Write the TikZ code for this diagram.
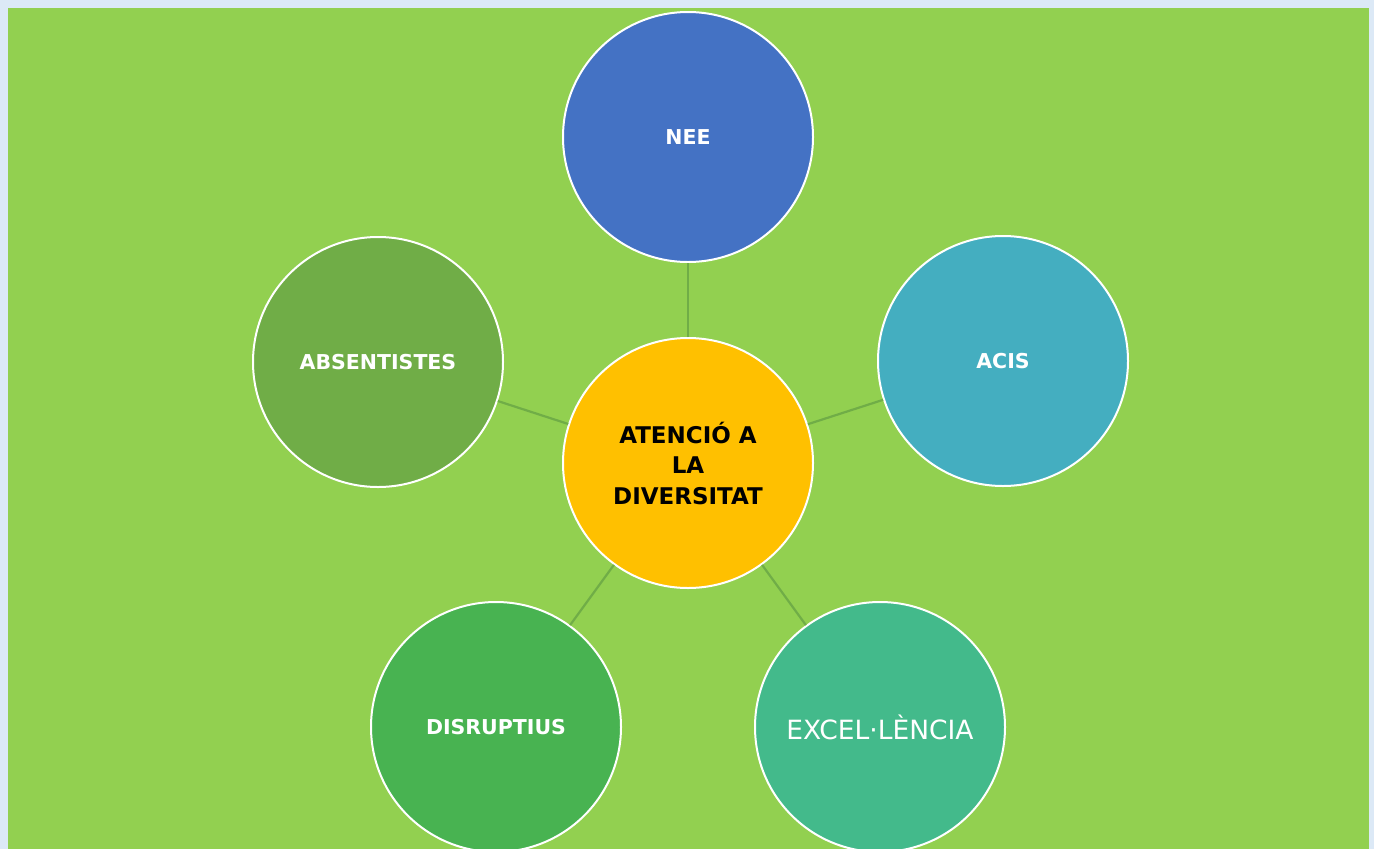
\documentclass[tikz,border=0pt]{standalone}
\usepackage{fontspec}
\setmainfont{DejaVu Sans}
\definecolor{bgblue}{HTML}{DCE9F6}
\definecolor{bggreen}{HTML}{92D050}
\definecolor{linkgreen}{HTML}{70AD47}
\definecolor{cNEE}{HTML}{4472C4}
\definecolor{cACIS}{HTML}{44AEC0}
\definecolor{cABS}{HTML}{70AD47}
\definecolor{cDIS}{HTML}{48B351}
\definecolor{cEXC}{HTML}{43BA8B}
\definecolor{cCEN}{HTML}{FFC000}
\tikzset{
  bubble/.style={circle, draw=white, line width=2pt, minimum size=250pt, inner sep=0pt, text=white, font=\fontsize{20.5}{24}\selectfont\bfseries, align=center},
  link/.style={draw=linkgreen, line width=2.2pt}
}
\begin{document}
\begin{tikzpicture}[x=1pt,y=-1pt]
\useasboundingbox (0,0) rectangle (1374,849);
\fill[bgblue] (0,0) rectangle (1374,849);
\clip (0,0) rectangle (1374,849);
\fill[bggreen] (8,8) rectangle (1369,860);
\node[bubble, fill=cCEN, text=black, font=\fontsize{23}{30.5}\selectfont\bfseries] (cen) at (688,463) {ATENCIÓ A\\LA\\DIVERSITAT};
\node[bubble, fill=cNEE] (nee) at (688,137) {NEE};
\node[bubble, fill=cACIS] (acis) at (1003,361) {ACIS};
\node[bubble, fill=cEXC, font=\fontsize{26.5}{30}\selectfont] (exc) at (880,727) {EXCEL·LÈNCIA};
\node[bubble, fill=cDIS] (dis) at (496,727) {DISRUPTIUS};
\node[bubble, fill=cABS] (abs) at (378,362) {ABSENTISTES};
\draw[link] (cen) -- (nee);
\draw[link] (cen) -- (acis);
\draw[link] (cen) -- (exc);
\draw[link] (cen) -- (dis);
\draw[link] (cen) -- (abs);
\end{tikzpicture}
\end{document}
